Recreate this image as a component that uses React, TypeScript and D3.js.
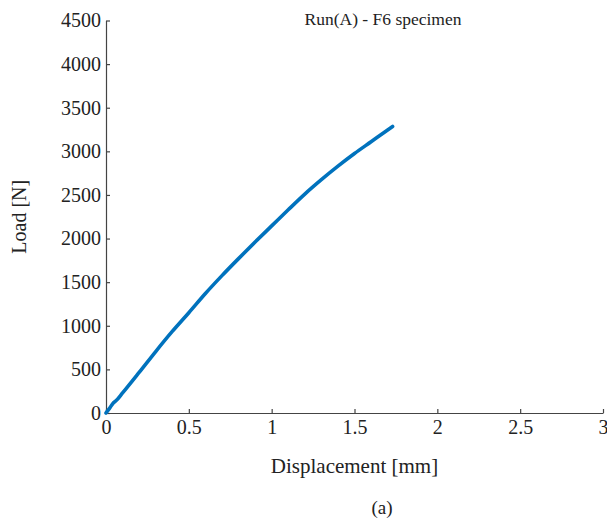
import React, { useEffect, useRef } from "react";
import * as d3 from "d3";

// displacement [mm] and load [N]
const displacement = [0, 0.02, 0.044, 0.06, 0.1, 0.2, 0.3, 0.4, 0.5, 0.6, 0.7, 0.8, 0.9, 1.0, 1.1, 1.2, 1.3, 1.4, 1.5, 1.6, 1.7, 1.73];
const load = [0, 50, 115, 140, 230, 465, 705, 935, 1150, 1370, 1575, 1770, 1960, 2145, 2330, 2510, 2675, 2830, 2975, 3110, 3245, 3285];

const xTicks = [0, 0.5, 1, 1.5, 2, 2.5, 3];
const yTicks = [0, 500, 1000, 1500, 2000, 2500, 3000, 3500, 4000, 4500];

const title = "Run(A) - F6 specimen";
const xLabel = "Displacement [mm]";
const yLabel = "Load [N]";
const caption = "(a)";

const W = 607;
const H = 519;
const margin = { top: 20.5, right: 4, bottom: 106, left: 106 };
const FONT = "'Liberation Serif', 'Times New Roman', serif";

export default function App() {
  const svgRef = useRef<SVGSVGElement>(null);

  useEffect(() => {
    if (!svgRef.current) return;
    const svg = d3.select(svgRef.current);
    svg.selectAll("*").remove();

    const x = d3.scaleLinear().domain([0, 3]).range([margin.left, W - margin.right]);
    const y = d3.scaleLinear().domain([0, 4500]).range([H - margin.bottom, margin.top]);

    const axisColor = "#444";
    const textColor = "#222";

    const gx = svg
      .append("g")
      .attr("transform", `translate(0,${H - margin.bottom})`)
      .call(
        d3
          .axisBottom(x)
          .tickValues(xTicks)
          .tickSize(-4)
          .tickSizeOuter(0)
          .tickPadding(7)
          .tickFormat((d) => String(d))
      );

    const gy = svg
      .append("g")
      .attr("transform", `translate(${margin.left},0)`)
      .call(
        d3
          .axisLeft(y)
          .tickValues(yTicks)
          .tickSize(-4)
          .tickSizeOuter(0)
          .tickPadding(5)
          .tickFormat((d) => String(d))
      );

    [gx, gy].forEach((g) => {
      g.select(".domain").attr("stroke", axisColor).attr("stroke-width", 1.2);
      g.selectAll(".tick line").attr("stroke", axisColor).attr("stroke-width", 1.2);
      g.selectAll(".tick text")
        .attr("fill", textColor)
        .style("font-family", FONT)
        .style("font-size", "20px");
    });

    const line = d3
      .line<number>()
      .x((_, i) => x(displacement[i]))
      .y((d) => y(d))
      .curve(d3.curveMonotoneX);

    svg
      .append("path")
      .datum(load)
      .attr("fill", "none")
      .attr("stroke", "#0072bd")
      .attr("stroke-width", 3.6)
      .attr("stroke-linecap", "round")
      .attr("stroke-linejoin", "round")
      .attr("d", line);

    const label = (txt: string, size: number) =>
      svg
        .append("text")
        .attr("text-anchor", "middle")
        .style("font-family", FONT)
        .style("font-size", `${size}px`)
        .attr("fill", textColor)
        .text(txt);

    label(title, 17.5).attr("x", 383).attr("y", 25);
    label(xLabel, 21).attr("x", (margin.left + W - margin.right) / 2).attr("y", 473);
    label(yLabel, 20).attr(
      "transform",
      `translate(26,${(margin.top + H - margin.bottom) / 2}) rotate(-90)`
    );
    label(caption, 19).attr("x", 382).attr("y", 514);
  }, []);

  return (
    <svg
      ref={svgRef}
      width={W}
      height={H}
      style={{ position: "absolute", left: 0, top: 0, background: "#fff" }}
    />
  );
}
